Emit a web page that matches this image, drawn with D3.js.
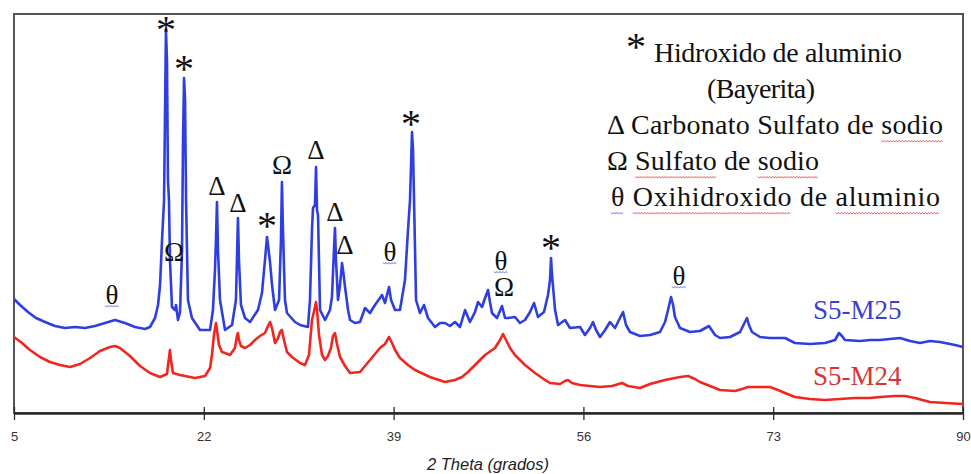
<!DOCTYPE html>
<html>
<head>
<meta charset="utf-8">
<script src="https://cdn.jsdelivr.net/npm/d3@7/dist/d3.min.js"></script>
<style>
  html, body { margin: 0; padding: 0; background: #fff; }
  svg { display: block; }
</style>
</head>
<body>
<svg id="chart" width="971" height="474"></svg>
<script>
// X-ray diffraction patterns, 2θ (degrees) vs. intensity (a.u.)
const theta25 = [5.00,5.54,6.25,6.97,7.78,8.67,9.57,10.46,11.36,12.25,
13.15,14.05,14.94,15.84,16.73,17.18,17.63,17.90,18.08,18.26,
18.44,18.52,18.61,18.70,18.79,18.88,18.97,19.15,19.42,19.51,
19.69,19.87,20.05,20.14,20.23,20.32,20.41,20.58,20.94,21.66,
22.56,22.82,23.00,23.09,23.18,23.27,23.45,23.90,24.53,24.88,
25.06,25.15,25.33,25.69,26.14,26.85,27.21,27.48,27.66,27.75,
27.93,28.11,28.38,28.74,28.91,29.00,29.09,29.27,29.45,30.17,
30.62,31.33,31.51,31.69,31.78,31.96,32.05,32.14,32.23,32.41,
32.86,33.30,33.48,33.66,33.75,33.84,34.02,34.20,34.38,34.47,
34.65,34.92,35.10,35.54,35.99,36.44,36.89,37.33,37.78,37.96,
38.23,38.59,38.77,39.13,39.57,40.02,40.29,40.47,40.65,40.74,
40.83,41.01,41.36,41.72,42.08,42.71,43.16,43.60,44.05,44.50,
44.95,45.40,45.84,46.29,46.56,46.92,47.19,47.46,47.63,47.81,
48.26,48.71,48.98,49.25,49.87,50.32,50.77,51.22,51.58,51.93,
52.47,52.83,53.01,53.10,53.19,53.46,53.73,54.35,54.80,55.70,
56.14,56.59,56.86,57.13,57.49,57.94,58.38,58.83,59.28,59.55,
59.82,60.17,61.07,61.97,62.86,63.31,63.58,63.85,64.03,64.20,
64.65,65.55,66.44,67.25,67.79,68.24,69.13,70.03,70.47,70.65,
70.83,71.10,71.82,72.71,73.43,74.06,74.95,76.30,77.64,78.54,
78.89,79.16,79.43,80.77,81.67,82.57,83.46,84.36,85.25,86.15,
87.04,87.94,88.84,89.28,90.00];

const int25 = [114,108,101,95,91,87,85,86,85,87,
90,93,90,86,84,86,95,108,128,173,
213,293,383,353,233,213,153,106,103,108,
93,101,163,273,335,313,213,113,95,83,
83,103,143,173,211,163,113,83,88,113,
195,153,108,95,91,103,120,153,176,168,
151,128,103,113,173,231,183,113,100,91,
88,86,113,183,205,208,246,203,198,103,
93,103,116,163,185,153,113,128,150,143,
126,103,93,90,91,105,100,108,115,118,
110,126,113,103,103,133,183,213,281,263,
213,113,100,108,95,86,90,90,87,91,
86,103,91,101,111,106,115,123,111,100,
95,107,95,95,96,90,93,101,110,96,
101,118,133,155,138,103,88,93,85,86,
78,85,91,83,76,83,91,85,95,101,
88,81,77,78,81,91,103,116,108,96,
85,81,82,87,78,75,76,81,91,95,
88,81,76,75,75,75,70,69,70,73,
80,77,73,72,73,73,74,75,72,70,
72,71,69,68,66];

const theta24 = [5.00,5.72,6.43,7.33,8.22,9.12,10.02,10.91,11.81,12.70,
13.60,14.05,14.49,15.39,16.29,17.18,18.08,18.70,18.88,18.97,
19.06,19.24,19.87,20.76,21.21,22.11,22.56,22.73,22.91,23.09,
23.18,23.36,23.63,23.90,24.35,24.79,24.97,25.06,25.15,25.33,
25.69,26.14,26.59,27.03,27.48,27.75,27.93,28.11,28.38,28.65,
28.83,29.00,29.18,29.45,29.90,30.62,31.06,31.42,31.69,31.96,
32.05,32.14,32.32,32.59,32.86,33.12,33.39,33.57,33.75,33.93,
34.20,34.65,35.10,35.99,36.89,37.78,38.23,38.59,38.86,39.13,
39.57,40.29,40.92,42.26,43.60,44.50,45.13,45.66,46.29,47.19,
48.08,48.53,48.80,49.07,49.43,49.87,50.77,51.67,52.56,53.01,
53.90,54.35,54.62,54.98,55.70,56.59,57.49,58.56,59.46,60.00,
61.07,61.97,63.31,64.65,65.37,66.00,66.44,67.34,68.24,69.58,
70.21,70.74,71.82,72.71,73.43,74.06,74.95,76.30,77.64,78.98,
80.33,81.67,82.57,83.91,84.81,85.70,87.04,88.39,90.00];

const int24 = [76,70,63,56,51,48,46,49,55,62,
66,67,65,57,47,40,36,39,55,63,
53,40,38,36,35,37,45,58,78,90,
83,68,61,60,58,65,77,80,73,67,
65,68,73,77,80,87,91,85,70,75,
81,83,73,61,56,50,48,58,93,106,
111,103,78,58,53,57,65,77,80,69,
56,47,40,41,53,65,69,76,70,63,
55,48,43,36,31,33,36,41,48,58,
65,73,79,73,65,58,48,40,33,30,
29,32,33,30,28,27,26,27,30,27,
25,29,33,36,37,34,31,27,23,22,
24,26,26,26,23,20,16,14,13,14,
15,15,16,17,17,15,11,10,9];

const seriesNames = ["S5-M25", "S5-M24"];
const xTicks = [5, 22, 39, 56, 73, 90];
const xTitle = "2 Theta (grados)";

// Phase key
const phaseSymbols = ["*", "Δ", "Ω", "θ"];
const phaseNames = ["Hidroxido de aluminio", "Carbonato Sulfato de sodio", "Sulfato de sodio", "Oxihidroxido de aluminio"];
const bayeriteNote = "(Bayerita)";

// Peak identifications on S5-M25: symbol, 2θ and the intensity level of the mark
const peakSymbol = ["θ", "*", "*", "Ω", "Δ", "Δ", "*", "Ω", "Δ", "Δ", "Δ", "θ", "*", "θ", "Ω", "*", "θ"];
const peakTheta  = [13.78, 18.61, 20.23, 19.33, 23.18, 25.06, 27.66, 29.00, 32.05, 33.75, 34.65, 38.68, 40.56, 48.62, 48.89, 53.10, 64.56];
const peakLevel  = [118, 389, 350, 161, 227, 210, 193, 248, 263, 201, 168, 161, 295, 152, 126, 171, 137];

const W = 971, H = 474;
const plot = { left: 14, right: 963, top: 14, bottom: 413 };
const blue = "#2f3ee0", red = "#f0261f";
const serif = "'Liberation Serif', 'Times New Roman', serif";

const svg = d3.select("#chart");
svg.append("rect").attr("width", W).attr("height", H).attr("fill", "#fff");

const x = d3.scaleLinear().domain([5, 90]).range([plot.left, plot.right]);
const y = d3.scaleLinear().domain([0, 400]).range([plot.bottom, plot.bottom - 400]);

// frame
svg.append("rect")
  .attr("x", plot.left).attr("y", plot.top)
  .attr("width", plot.right - plot.left).attr("height", plot.bottom - plot.top)
  .attr("fill", "none").attr("stroke", "#555").attr("stroke-width", 2);

// diffraction traces
const line = d3.line().x(d => x(d[0])).y(d => y(d[1]));
const s25 = d3.zip(theta25, int25);
const s24 = d3.zip(theta24, int24);
svg.append("path").datum(s24).attr("d", line)
  .attr("fill", "none").attr("stroke", red).attr("stroke-width", 2.6).attr("stroke-linejoin", "round");
svg.append("path").datum(s25).attr("d", line)
  .attr("fill", "none").attr("stroke", blue).attr("stroke-width", 2.6).attr("stroke-linejoin", "round");

// bottom axis
const axis = svg.append("g").attr("transform", `translate(0,${plot.bottom})`)
  .call(d3.axisBottom(x).tickValues(xTicks).tickFormat(d3.format("d")).tickSizeOuter(0));
axis.select(".domain").attr("stroke", "#2a2a2a").attr("stroke-width", 2.5);
axis.selectAll(".tick line").attr("y1", -6).attr("y2", 7).attr("stroke", "#2a2a2a").attr("stroke-width", 1.3);
axis.selectAll(".tick text")
  .attr("y", 28).attr("dy", null)
  .attr("font-family", "'Liberation Sans Narrow', 'Liberation Sans', Arial, sans-serif")
  .attr("font-size", 13).attr("fill", "#333");

svg.append("text")
  .attr("x", 488).attr("y", 470)
  .attr("text-anchor", "middle")
  .attr("font-family", "'Liberation Sans', Arial, sans-serif")
  .attr("font-style", "italic").attr("font-size", 16.5).attr("fill", "#222")
  .text(xTitle);

// squiggly underline
function squiggle(x0, x1, yy, color) {
  const pts = [];
  let k = 0;
  for (let xx = x0; xx <= x1; xx += 1.5, k++) pts.push([xx, yy + (k % 2 ? 1.1 : -0.6)]);
  svg.append("path").attr("d", d3.line()(pts))
    .attr("fill", "none").attr("stroke", color).attr("stroke-width", 0.9).attr("opacity", 0.85);
}

// peak marks
const symFont = { "*": 40, "Δ": 27, "Ω": 27, "θ": 27 };
const symShift = { "*": 0.47, "Δ": 0.33, "Ω": 0.33, "θ": 0.34 };
function mark(s, cx, cy) {
  const fs = symFont[s];
  svg.append("text")
    .attr("x", cx).attr("y", cy + symShift[s] * fs)
    .attr("text-anchor", "middle")
    .attr("font-family", serif).attr("font-size", fs)
    .attr("fill", "#111")
    .text(s);
}
peakSymbol.forEach((s, i) => {
  const cx = x(peakTheta[i]), cy = y(peakLevel[i]);
  mark(s, cx, cy);
  if (s === "θ") squiggle(cx - 7, cx + 7, cy + 11, "#3b5bd6");
});

// series labels
svg.append("text").attr("x", 813).attr("y", 319)
  .attr("font-family", serif).attr("font-size", 27).attr("fill", "#3a3fcf").text(seriesNames[0]);
svg.append("text").attr("x", 813).attr("y", 385)
  .attr("font-family", serif).attr("font-size", 27).attr("fill", "#d93434").text(seriesNames[1]);

// phase key
const keyFs = 28;
function keyLine(str, lx, ly, width, marks) {
  const t = svg.append("text").attr("x", lx).attr("y", ly)
    .attr("font-family", serif).attr("font-size", keyFs).attr("fill", "#111").text(str);
  if (width) t.attr("textLength", width).attr("lengthAdjust", "spacing");
  const node = t.node();
  (marks || []).forEach(m => {
    const i = str.indexOf(m.word, m.from || 0);
    if (i < 0) return;
    const a = node.getStartPositionOfChar(i).x;
    const b = node.getEndPositionOfChar(i + m.word.length - 1).x;
    squiggle(a, b, ly + 7, m.color);
  });
}
const ulRed = "#e0383a", ulBlue = "#3b5bd6";

mark(phaseSymbols[0], 636, 41);
keyLine(phaseNames[0], 654, 62, 248);
keyLine(bayeriteNote, 707, 98, 108);
keyLine(`${phaseSymbols[1]} ${phaseNames[1]}`, 607, 134, 336, [{ word: "sodio", color: ulRed }]);
keyLine(`${phaseSymbols[2]} ${phaseNames[2]}`, 607, 170, 212, [{ word: "Sulfato", color: ulRed }, { word: "sodio", color: ulRed }]);
keyLine(`${phaseSymbols[3]} ${phaseNames[3]}`, 611, 206, 329, [
  { word: phaseSymbols[3], color: ulBlue },
  { word: "Oxihidroxido", color: ulRed },
  { word: "aluminio", color: ulRed }
]);
</script>
</body>
</html>
